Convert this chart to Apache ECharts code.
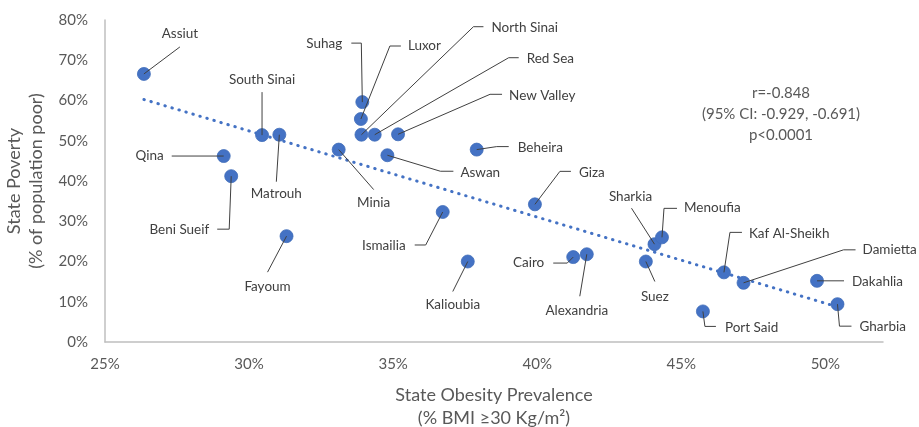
<!DOCTYPE html>
<html>
<head>
<meta charset="utf-8">
<script src="https://cdn.jsdelivr.net/npm/echarts@6/dist/echarts.min.js"></script>
<style>
  html, body { margin: 0; padding: 0; background: #fff; }
  #chart { width: 919px; height: 427px; }
</style>
</head>
<body>
<div id="chart"></div>
<script>
// Governorate-level obesity prevalence (%) vs. share of population in poverty (%)
const governorates = [
  'Assiut', 'South Sinai', 'Matrouh', 'Qina', 'Beni Sueif', 'Fayoum',
  'Suhag', 'Luxor', 'North Sinai', 'Red Sea', 'New Valley', 'Minia',
  'Aswan', 'Beheira', 'Giza', 'Ismailia', 'Kalioubia', 'Cairo',
  'Alexandria', 'Sharkia', 'Menoufia', 'Suez', 'Kaf Al-Sheikh', 'Damietta',
  'Dakahlia', 'Gharbia', 'Port Said'
];
const obesity = [
  26.35, 30.45, 31.05, 29.12, 29.38, 31.30,
  33.93, 33.88, 33.90, 34.36, 35.17, 33.11,
  34.80, 37.90, 39.92, 36.72, 37.59, 41.25,
  41.72, 44.07, 44.33, 43.77, 46.48, 47.16,
  49.71, 50.42, 45.75
];
const poverty = [
  66.6, 51.4, 51.5, 46.2, 41.2, 26.3,
  59.6, 55.4, 51.5, 51.5, 51.6, 47.8,
  46.4, 47.8, 34.2, 32.3, 20.0, 21.1,
  21.8, 24.3, 26.0, 20.0, 17.3, 14.7,
  15.2, 9.4, 7.6
];
const xTicks = [25, 30, 35, 40, 45, 50];
const yTicks = [0, 10, 20, 30, 40, 50, 60, 70, 80];
const statsLines = ['r=-0.848', '(95% CI: -0.929, -0.691)', 'p<0.0001'];

// Where each name sits relative to its marker (pixels): label anchor dx/dy,
// text alignment, and the leader-line bend points.
const labelPlacement = {
  'Assiut':        { dx: 36,   dy: -40, align: 'center', path: [[36, -27]] },
  'South Sinai':   { dx: 0,    dy: -55, align: 'center', path: [[0, -43]] },
  'Matrouh':       { dx: -3,   dy: 59,  align: 'center', path: [[-3, 47]] },
  'Qina':          { dx: -60,  dy: 0,   align: 'right',  path: [[-52, 0]] },
  'Beni Sueif':    { dx: -22,  dy: 53,  align: 'right',  path: [[-2, 53], [-14, 53]] },
  'Fayoum':        { dx: -19,  dy: 50,  align: 'center', path: [[-19, 36]] },
  'Suhag':         { dx: -20,  dy: -58, align: 'right',  path: [[-1, -59], [-11, -59]] },
  'Luxor':         { dx: 47,   dy: -73, align: 'left',   path: [[29, -73], [40, -73]] },
  'North Sinai':   { dx: 130,  dy: -107, align: 'left',  path: [[112, -108], [122, -108]] },
  'Red Sea':       { dx: 152,  dy: -76, align: 'left',   path: [[134, -77], [144, -77]] },
  'New Valley':    { dx: 111,  dy: -39, align: 'left',   path: [[92, -40], [104, -40]] },
  'Minia':         { dx: 35,   dy: 53,  align: 'center', path: [[35, 40]] },
  'Aswan':         { dx: 73,   dy: 17,  align: 'left',   path: [[53, 16], [66, 16]] },
  'Beheira':       { dx: 41,   dy: -2,  align: 'left',   path: [[20, -3], [32, -3]] },
  'Giza':          { dx: 44,   dy: -32, align: 'left',   path: [[25, -33], [36, -33]] },
  'Ismailia':      { dx: -37,  dy: 34,  align: 'right',  path: [[-17, 33], [-28, 33]] },
  'Kalioubia':     { dx: -15,  dy: 43,  align: 'center', path: [[-15, 30]] },
  'Cairo':         { dx: -29,  dy: 6,   align: 'right',  path: [[-6, 6], [-20, 6]] },
  'Alexandria':    { dx: -10,  dy: 56,  align: 'center', path: [[-7, 42]] },
  'Sharkia':       { dx: -24,  dy: -48, align: 'center', path: [[-23, -36]] },
  'Menoufia':      { dx: 22,   dy: -30, align: 'left',   path: [[2, -29], [15, -29]] },
  'Suez':          { dx: 9,    dy: 35,  align: 'center', path: [[9, 20]] },
  'Kaf Al-Sheikh': { dx: 25,   dy: -39, align: 'left',   path: [[6, -40], [18, -40]] },
  'Damietta':      { dx: 119,  dy: -33, align: 'left',   path: [[100, -33], [112, -33]] },
  'Dakahlia':      { dx: 35,   dy: 1,   align: 'left',   path: [[27, 0]] },
  'Gharbia':       { dx: 22,   dy: 22,  align: 'left',   path: [[2, 22], [14, 22]] },
  'Port Said':     { dx: 22,   dy: 16,  align: 'left',   path: [[2, 15], [13, 15]] }
};

const FONT = 'Lato, "Open Sans", sans-serif';
const points = obesity.map((x, i) => [x, poverty[i]]);

// Ordinary least-squares trend line across the observed obesity range
function linearFit(xs, ys) {
  const n = xs.length;
  const mx = xs.reduce((a, b) => a + b, 0) / n;
  const my = ys.reduce((a, b) => a + b, 0) / n;
  let sxy = 0, sxx = 0;
  for (let i = 0; i < n; i++) {
    sxy += (xs[i] - mx) * (ys[i] - my);
    sxx += (xs[i] - mx) * (xs[i] - mx);
  }
  const slope = sxy / sxx;
  return { slope, intercept: my - slope * mx };
}
const fit = linearFit(obesity, poverty);
const xMin = Math.min(...obesity), xMax = Math.max(...obesity);
const trend = [xMin, xMax].map(x => [x, fit.intercept + fit.slope * x]);

const chart = echarts.init(document.getElementById('chart'), null, { renderer: 'canvas' });

chart.setOption({
  animation: false,
  backgroundColor: '#ffffff',
  grid: { left: 105, right: 36, top: 20, bottom: 85, containLabel: false, outerBoundsMode: 'none' },
  xAxis: {
    type: 'value',
    min: xTicks[0],
    max: 52,
    interval: 5,
    axisLine: { show: true, lineStyle: { color: '#BFBFBF', width: 1.5 } },
    axisTick: { show: false },
    splitLine: { show: false },
    axisLabel: {
      color: '#595959', fontFamily: FONT, fontSize: 15, margin: 15,
      showMaxLabel: false,
      formatter: v => (xTicks.includes(v) ? v + '%' : '')
    },
    name: 'State Obesity Prevalence\n(% BMI \u226530 Kg/m\u00B2)',
    nameLocation: 'middle',
    nameGap: 42,
    nameTextStyle: { color: '#595959', fontFamily: FONT, fontSize: 18, lineHeight: 23 }
  },
  yAxis: {
    type: 'value',
    min: yTicks[0],
    max: yTicks[yTicks.length - 1],
    interval: 10,
    axisLine: { show: true, lineStyle: { color: '#BFBFBF', width: 1.5 } },
    axisTick: { show: false },
    splitLine: { show: false },
    axisLabel: {
      color: '#595959', fontFamily: FONT, fontSize: 15, margin: 17,
      formatter: v => v + '%'
    },
    name: 'State Poverty\n(% of population poor)',
    nameLocation: 'middle',
    nameRotate: 90,
    nameGap: 57,
    nameTextStyle: { color: '#595959', fontFamily: FONT, fontSize: 18, lineHeight: 22 }
  },
  series: [
    {
      type: 'line',
      data: trend,
      symbol: 'none',
      silent: true,
      z: 2,
      lineStyle: { color: '#4472C4', width: 3, type: [0.5, 6.8], cap: 'round' }
    },
    {
      type: 'scatter',
      data: points,
      symbol: 'circle',
      symbolSize: 13,
      z: 3,
      itemStyle: { color: '#4472C4', borderColor: '#3F6CB9', borderWidth: 0.8, opacity: 1 }
    },
    {
      type: 'custom',
      data: points,
      z: 4,
      clip: false,
      silent: true,
      renderItem: function (params, api) {
        const i = params.dataIndex;
        const name = governorates[i];
        const lay = labelPlacement[name];
        const p = api.coord([obesity[i], poverty[i]]);
        const pts = [[p[0], p[1]]].concat(lay.path.map(d => [p[0] + d[0], p[1] + d[1]]));
        return {
          type: 'group',
          children: [
            {
              type: 'polyline',
              shape: { points: pts },
              style: { stroke: '#404040', lineWidth: 1, fill: null }
            },
            {
              type: 'text',
              x: p[0] + lay.dx,
              y: p[1] + lay.dy,
              style: {
                text: name,
                fill: '#404040',
                font: '13.5px ' + FONT,
                align: lay.align,
                verticalAlign: 'middle'
              }
            }
          ]
        };
      }
    }
  ],
  graphic: statsLines.map((t, k) => ({
    type: 'text',
    x: 781,
    y: 93 + k * 21.2,
    style: {
      text: t,
      fill: '#595959',
      font: '15px ' + FONT,
      align: 'center',
      verticalAlign: 'middle'
    }
  }))
});
</script>
</body>
</html>
